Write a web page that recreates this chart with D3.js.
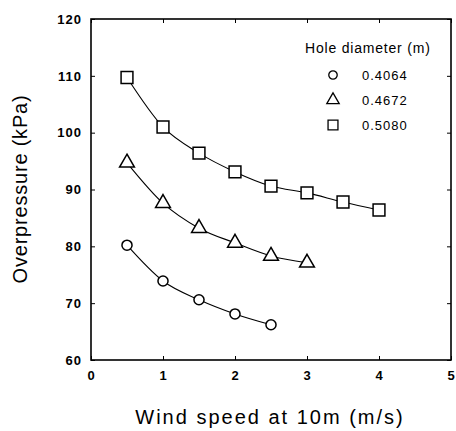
<!DOCTYPE html>
<html>
<head>
<meta charset="utf-8">
<script src="https://cdn.jsdelivr.net/npm/d3@7"></script>
<style>
  body { margin: 0; background: #fff; }
  text { font-family: Arial, "Liberation Sans", sans-serif; fill: #000; }
</style>
</head>
<body>
<svg id="chart" width="456" height="431"></svg>
<script>
const windSpeeds = [0.5, 1, 1.5, 2, 2.5, 3, 3.5, 4]
const holeDiameters = ["0.4064", "0.4672", "0.5080"]
const symbols = ["circle", "triangle", "square"]
const pressureSmall = [80.2, 73.9, 70.6, 68.1, 66.2]
const pressureMid = [94.7, 87.6, 83.2, 80.6, 78.3, 77.1]
const pressureLarge = [109.7, 101, 96.4, 93.1, 90.6, 89.4, 87.8, 86.4]
const xTicks = [0, 1, 2, 3, 4, 5]
const yTicks = [60, 70, 80, 90, 100, 110, 120]

const series = [pressureSmall, pressureMid, pressureLarge].map((vals, i) => ({
  name: holeDiameters[i],
  symbol: symbols[i],
  points: vals.map((v, j) => [windSpeeds[j], v])
}))

const svg = d3.select("#chart")
const m = {left: 91, right: 5, top: 19, bottom: 71}
const W = 456, H = 431

const x = d3.scaleLinear().domain([0, 5]).range([m.left, W - m.right])
const y = d3.scaleLinear().domain([60, 120]).range([H - m.bottom, m.top])

// frame
svg.append("rect")
  .attr("x", x(0)).attr("y", y(120))
  .attr("width", x(5) - x(0)).attr("height", y(60) - y(120))
  .attr("fill", "none").attr("stroke", "#000").attr("stroke-width", 1.6)

// inward ticks on every side
const tk = 4
svg.append("g").attr("transform", `translate(0,${y(60)})`)
  .call(d3.axisBottom(x).tickValues(xTicks).tickFormat(d3.format("d")).tickSizeInner(-tk).tickSizeOuter(0).tickPadding(11))
svg.append("g").attr("transform", `translate(0,${y(120)})`)
  .call(d3.axisTop(x).tickValues(xTicks).tickSizeInner(-tk).tickSizeOuter(0).tickFormat(""))
svg.append("g").attr("transform", `translate(${x(0)},0)`)
  .call(d3.axisLeft(y).tickValues(yTicks).tickSizeInner(-tk).tickSizeOuter(0).tickPadding(9))
svg.append("g").attr("transform", `translate(${x(5)},0)`)
  .call(d3.axisRight(y).tickValues(yTicks).tickSizeInner(-tk).tickSizeOuter(0).tickFormat(""))

svg.selectAll(".domain").remove()
svg.selectAll(".tick line").attr("stroke", "#000")
svg.selectAll(".tick text").style("font-size", "13px").style("font-weight", "bold")
  .style("letter-spacing", "1px")
  .style("font-family", "Arial, 'Liberation Sans', sans-serif")

// axis titles
svg.append("text")
  .attr("x", 270).attr("y", 424)
  .attr("text-anchor", "middle")
  .style("font-size", "20px").style("letter-spacing", "2px")
  .text("Wind speed at 10m (m/s)")
svg.append("text")
  .attr("transform", `translate(27,${189}) rotate(-90)`)
  .attr("text-anchor", "middle")
  .style("font-size", "20px").style("letter-spacing", "0.8px")
  .text("Overpressure (kPa)")

// curves
const line = d3.line().x(d => x(d[0])).y(d => y(d[1])).curve(d3.curveMonotoneX)
svg.append("g").selectAll("path")
  .data(series)
  .join("path")
  .attr("d", d => line(d.points))
  .attr("fill", "none").attr("stroke", "#000").attr("stroke-width", 1.1)

const symType = {circle: d3.symbolCircle, triangle: d3.symbolTriangle, square: d3.symbolSquare}
const symSize = {circle: 80, triangle: 95, square: 140}
const sym = s => d3.symbol().type(symType[s]).size(symSize[s])()

series.forEach(s => {
  svg.append("g").selectAll("path")
    .data(s.points)
    .join("path")
    .attr("transform", d => `translate(${x(d[0])},${y(d[1])})`)
    .attr("d", sym(s.symbol))
    .attr("fill", "#fff").attr("stroke", "#000").attr("stroke-width", 1.5)
})

// legend
const lg = svg.append("g")
lg.append("text").attr("x", 305).attr("y", 53)
  .style("font-size", "14px").style("letter-spacing", "0.8px").text("Hole diameter (m)")
const rows = lg.selectAll("g.row").data(series).join("g")
  .attr("class", "row")
  .attr("transform", (d, i) => `translate(333,${75 + i * 25})`)
rows.append("path")
  .attr("d", d => d3.symbol().type(symType[d.symbol]).size(symSize[d.symbol] * 0.7)())
  .attr("fill", "#fff").attr("stroke", "#000").attr("stroke-width", 1.3)
rows.append("text").attr("x", 29).attr("y", 5)
  .style("font-size", "13px").style("letter-spacing", "1px").text(d => d.name)
</script>
</body>
</html>
